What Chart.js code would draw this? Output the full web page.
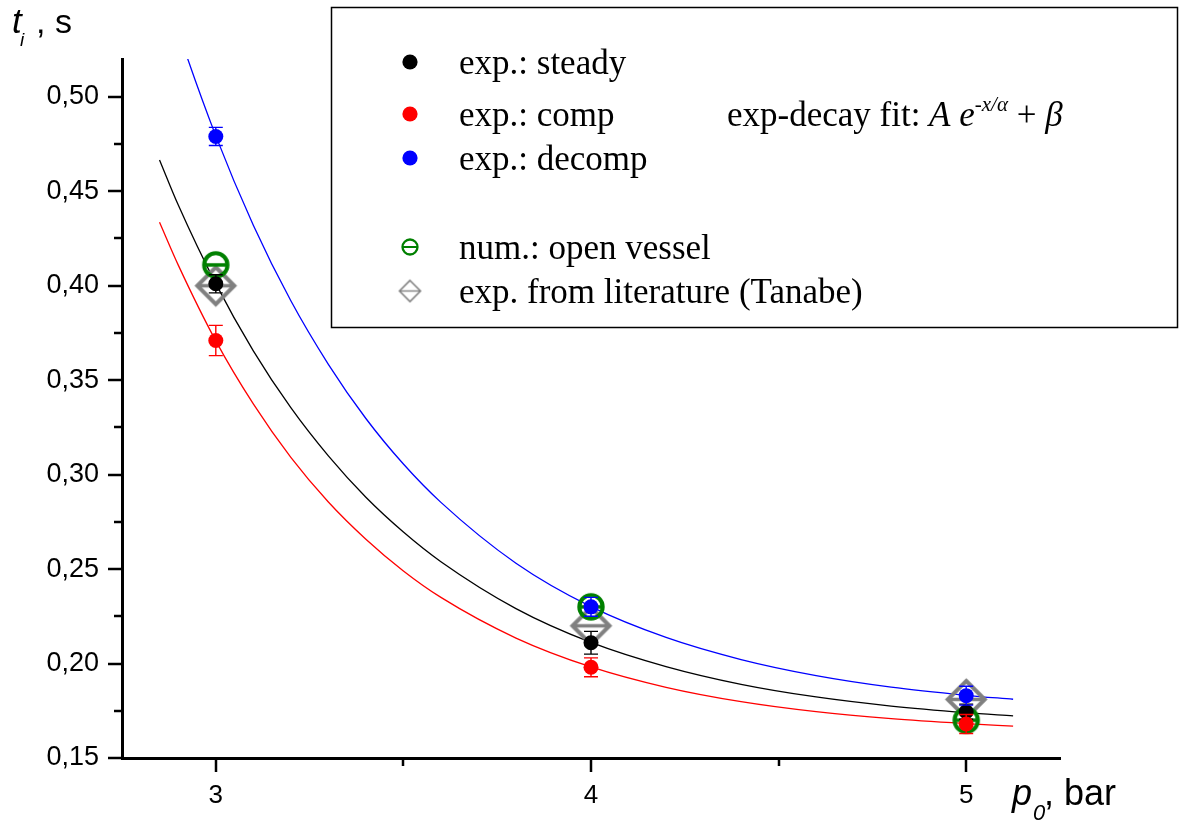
<!DOCTYPE html>
<html>
<head>
<meta charset="utf-8">
<script src="https://cdn.jsdelivr.net/npm/chart.js@4.4.1/dist/chart.umd.min.js"></script>
<style>
  html, body { margin: 0; padding: 0; background: #fff; }
  #wrap { width: 1194px; height: 823px; }
</style>
</head>
<body>
<div id="wrap"><canvas id="chart" width="1194" height="823"></canvas></div>
<script>
// ignition time vs initial pressure

// x positions of the fit curves
const fitX = [2.85, 2.9, 3.0, 3.1, 3.2, 3.3, 3.4, 3.5, 3.6, 3.8, 4.0, 4.2, 4.4, 4.6, 4.8, 5.0, 5.125];
const fitSteady = [0.4666, 0.4427, 0.4011, 0.3655, 0.3354, 0.3099, 0.2880, 0.2696, 0.2539, 0.2291, 0.2112, 0.1984, 0.1890, 0.1823, 0.1775, 0.1740, 0.1723];
const fitComp = [0.4336, 0.4109, 0.3708, 0.3374, 0.3091, 0.2855, 0.2658, 0.2490, 0.2350, 0.2135, 0.1982, 0.1874, 0.1798, 0.1745, 0.1708, 0.1682, 0.1669];
const fitDecomp = [0.5661, 0.5347, 0.4793, 0.4320, 0.3920, 0.3584, 0.3297, 0.3056, 0.2853, 0.2531, 0.2301, 0.2138, 0.2021, 0.1936, 0.1875, 0.1832, 0.1811];

// measured points
const pressure = [3, 4, 5];
const steady = [0.401, 0.211, 0.1745];
const steadyErr = [0.0048, 0.006, 0.004];
const comp = [0.371, 0.198, 0.168];
const compErr = [0.008, 0.005, 0.005];
const decomp = [0.479, 0.230, 0.183];
const decompErr = [0.0048, 0.005, 0.005];
const numOpen = [0.411, 0.230, 0.170];
const tanabe = [0.400, 0.220, 0.181];

// axis ticks
const xTicks = [3, 3.5, 4, 4.5, 5];
const xMajor = [3, 4, 5];
const yTicks = [0.15, 0.175, 0.2, 0.225, 0.25, 0.275, 0.3, 0.325, 0.35, 0.375, 0.4, 0.425, 0.45, 0.475, 0.5];

const SANS = '"Liberation Sans", Arial, sans-serif';
const SERIF = '"Liberation Serif", "Times New Roman", serif';

function isMajorY(v) {
    return Math.round(v * 1000) % 50 === 0;
}

function toPts(xs, ys) {
    return xs.map((x, i) => ({ x: x, y: ys[i] }));
}

// open circle with a horizontal bar (theta)
function makeTheta(r, lw, barW) {
    const s = Math.ceil(2 * r + lw + 2);
    const c = document.createElement('canvas');
    c.width = s; c.height = s;
    const g = c.getContext('2d');
    g.strokeStyle = '#008000';
    g.lineWidth = lw;
    g.beginPath();
    g.arc(s / 2, s / 2, r, 0, Math.PI * 2);
    g.stroke();
    g.lineWidth = barW;
    g.beginPath();
    g.moveTo(s / 2 - r, s / 2);
    g.lineTo(s / 2 + r, s / 2);
    g.stroke();
    return c;
}

// open diamond with a horizontal bar
function makeDiamond(h, lw, barW) {
    const s = Math.ceil(2 * h + lw + 4);
    const c = document.createElement('canvas');
    c.width = s; c.height = s;
    const g = c.getContext('2d');
    const m = s / 2;
    g.strokeStyle = '#808080';
    g.lineWidth = lw;
    g.lineJoin = 'miter';
    g.beginPath();
    g.moveTo(m, m - h);
    g.lineTo(m + h, m);
    g.lineTo(m, m + h);
    g.lineTo(m - h, m);
    g.closePath();
    g.stroke();
    g.lineWidth = barW;
    g.beginPath();
    g.moveTo(m - h, m);
    g.lineTo(m + h, m);
    g.stroke();
    return c;
}

const thetaBig = makeTheta(11.7, 4, 3.5);
const diamondBig = makeDiamond(18.5, 4, 3.5);
const thetaSmall = makeTheta(7.5, 2.3, 2);
const diamondSmall = makeDiamond(10.5, 1.6, 1.4);

// error bars, drawn just before each measured dataset so the marker sits on top
const errorBars = {
    id: 'errorBars',
    beforeDatasetDraw(chart, args) {
        const ds = chart.data.datasets[args.index];
        if (!ds.errors) return;
        const y = chart.scales.y;
        const ctx = chart.ctx;
        ctx.save();
        ctx.strokeStyle = ds.barColor;
        ctx.lineWidth = 1.4;
        args.meta.data.forEach((el, i) => {
            const v = ds.data[i].y;
            const e = ds.errors[i];
            const top = y.getPixelForValue(v + e);
            const bot = y.getPixelForValue(v - e);
            ctx.beginPath();
            ctx.moveTo(el.x, top); ctx.lineTo(el.x, bot);
            ctx.moveTo(el.x - 7, top); ctx.lineTo(el.x + 7, top);
            ctx.moveTo(el.x - 7, bot); ctx.lineTo(el.x + 7, bot);
            ctx.stroke();
        });
        ctx.restore();
    }
};

// tick marks (major / minor, pointing outwards) and the axis titles
const axisDecor = {
    id: 'axisDecor',
    afterDraw(chart) {
        const ctx = chart.ctx;
        const xs = chart.scales.x, ys = chart.scales.y;
        const area = chart.chartArea;
        ctx.save();
        ctx.strokeStyle = '#000';
        ctx.lineWidth = 2.5;
        yTicks.forEach(v => {
            const p = Math.round(ys.getPixelForValue(v));
            const len = isMajorY(v) ? 14 : 8;
            ctx.beginPath();
            ctx.moveTo(area.left - len, p);
            ctx.lineTo(area.left, p);
            ctx.stroke();
        });
        xTicks.forEach(v => {
            const p = Math.round(xs.getPixelForValue(v));
            const len = xMajor.includes(v) ? 14 : 8;
            ctx.beginPath();
            ctx.moveTo(p, area.bottom);
            ctx.lineTo(p, area.bottom + len);
            ctx.stroke();
        });

        ctx.fillStyle = '#000';
        ctx.textBaseline = 'alphabetic';
        ctx.textAlign = 'left';
        // y title: t_i , s
        ctx.font = 'italic 35px ' + SANS;
        ctx.fillText('t', 12, 33);
        ctx.font = 'italic 19px ' + SANS;
        ctx.fillText('i', 20, 46);
        ctx.font = '34px ' + SANS;
        ctx.fillText(', s', 36, 33);
        // x title: p_0, bar
        ctx.font = 'italic 36px ' + SANS;
        ctx.fillText('p', 1012, 805);
        ctx.font = 'italic 22px ' + SANS;
        ctx.fillText('0', 1033, 820);
        ctx.font = '36px ' + SANS;
        ctx.fillText(', bar', 1044, 805);
        ctx.restore();
    }
};

// framed legend box in the upper right
const legendBox = {
    id: 'legendBox',
    afterDraw(chart) {
        const ctx = chart.ctx;
        ctx.save();
        ctx.fillStyle = '#fff';
        ctx.fillRect(331, 7, 847, 320);
        ctx.strokeStyle = '#000';
        ctx.lineWidth = 1.5;
        ctx.strokeRect(331.5, 7.5, 846, 320);

        const mx = 410, tx = 459;
        const rows = [
            { y: 62, kind: 'dot', color: '#000', text: 'exp.: steady' },
            { y: 114, kind: 'dot', color: '#ff0000', text: 'exp.: comp' },
            { y: 158, kind: 'dot', color: '#0000ff', text: 'exp.: decomp' },
            { y: 247, kind: 'img', img: thetaSmall, text: 'num.: open vessel' },
            { y: 291, kind: 'img', img: diamondSmall, text: 'exp. from literature (Tanabe)' }
        ];
        ctx.font = '35px ' + SERIF;
        ctx.textBaseline = 'alphabetic';
        rows.forEach(r => {
            if (r.kind === 'dot') {
                ctx.fillStyle = r.color;
                ctx.beginPath();
                ctx.arc(mx, r.y, 7.6, 0, Math.PI * 2);
                ctx.fill();
            } else {
                ctx.drawImage(r.img, mx - r.img.width / 2, r.y - r.img.height / 2);
            }
            ctx.fillStyle = '#000';
            ctx.fillText(r.text, tx, r.y + 12);
        });

        // fit formula: exp-decay fit: A e^(-x/α) + β
        let x = 727;
        const base = 126;
        const put = (txt, font, dy) => {
            ctx.font = font;
            ctx.fillText(txt, x, base + (dy || 0));
            x += ctx.measureText(txt).width;
        };
        put('exp-decay fit: ', '35px ' + SERIF);
        put('A', 'italic 35px ' + SERIF);
        put(' ', '35px ' + SERIF);
        put('e', 'italic 35px ' + SERIF);
        put('-x/\u03b1', 'italic 21px ' + SERIF, -15);
        put(' + ', '35px ' + SERIF);
        put('\u03b2', 'italic 35px ' + SERIF);
        ctx.restore();
    }
};

const fitLine = (data, color, order) => ({
    data: toPts(fitX, data),
    showLine: true,
    borderColor: color,
    borderWidth: 1.3,
    pointRadius: 0,
    cubicInterpolationMode: 'monotone',
    fill: false,
    order: order
});

const measured = (data, errs, color, order) => ({
    data: toPts(pressure, data),
    errors: errs,
    barColor: color,
    backgroundColor: color,
    borderColor: color,
    borderWidth: 0,
    pointRadius: 7.5,
    pointStyle: 'circle',
    showLine: false,
    order: order
});

new Chart(document.getElementById('chart'), {
    type: 'scatter',
    data: {
        datasets: [
            fitLine(fitSteady, '#000000', 8),
            fitLine(fitComp, '#ff0000', 7),
            fitLine(fitDecomp, '#0000ff', 6),
            {
                data: toPts(pressure, tanabe),
                pointStyle: diamondBig,
                pointRadius: 20,
                showLine: false,
                order: 5
            },
            {
                data: toPts(pressure, numOpen),
                pointStyle: thetaBig,
                pointRadius: 14,
                showLine: false,
                order: 4
            },
            measured(steady, steadyErr, '#000000', 3),
            measured(comp, compErr, '#ff0000', 2),
            measured(decomp, decompErr, '#0000ff', 1)
        ]
    },
    options: {
        responsive: false,
        animation: false,
        events: [],
        layout: { padding: { left: 0, top: 59, right: 134, bottom: 0 } },
        plugins: {
            legend: { display: false },
            tooltip: { enabled: false }
        },
        scales: {
            x: {
                type: 'linear',
                min: 2.75,
                max: 5.25,
                afterBuildTicks: s => { s.ticks = xTicks.map(v => ({ value: v })); },
                afterFit: s => { s.height = 65; },
                grid: { display: false, drawTicks: false },
                border: { display: true, color: '#000', width: 3 },
                ticks: {
                    padding: 22,
                    maxRotation: 0,
                    autoSkip: false,
                    color: '#000',
                    font: { family: SANS, size: 26 },
                    callback: v => (xMajor.includes(v) ? String(v) : '')
                }
            },
            y: {
                type: 'linear',
                min: 0.15,
                max: 0.52,
                afterBuildTicks: s => { s.ticks = yTicks.map(v => ({ value: v })); },
                afterFit: s => { s.width = 122; },
                grid: { display: false, drawTicks: false },
                border: { display: true, color: '#000', width: 3 },
                ticks: {
                    padding: 23,
                    autoSkip: false,
                    color: '#000',
                    font: { family: SANS, size: 27 },
                    callback: v => (isMajorY(v) ? v.toFixed(2).replace('.', ',') : '')
                }
            }
        }
    },
    plugins: [errorBars, axisDecor, legendBox]
});
</script>
</body>
</html>
